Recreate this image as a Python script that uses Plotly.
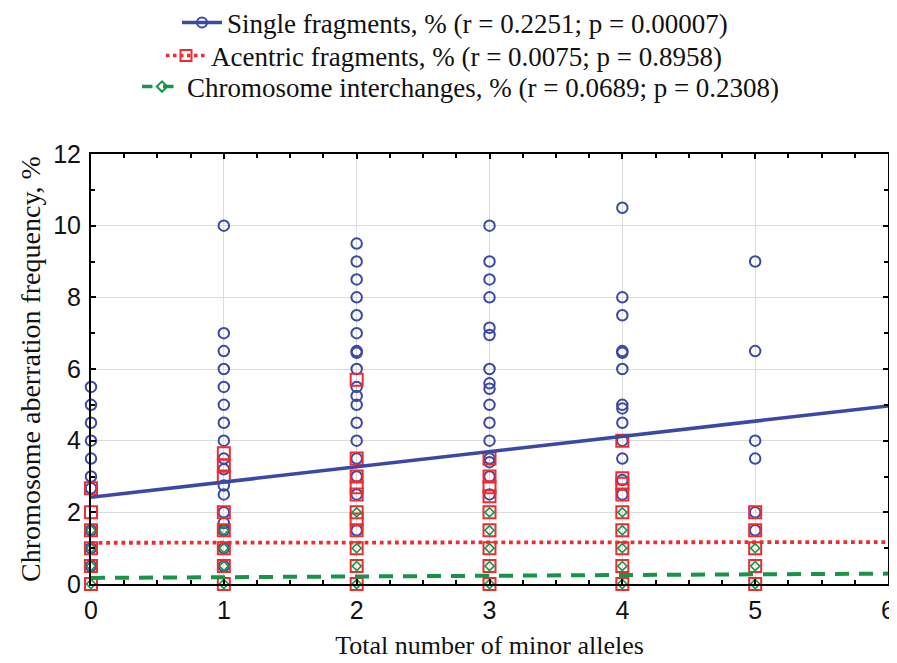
import plotly.graph_objects as go

# ---------------- data ----------------
alleles = [0, 1, 2, 3, 4, 5]

single_by_allele = [
    [5.5, 5.0, 4.5, 4.0, 3.5, 3.0, 2.67, 1.5, 1.0, 0.5],
    [10.0, 7.0, 6.5, 6.0, 5.5, 5.0, 4.5, 4.0, 3.5, 3.2, 2.75, 2.5, 2.0, 1.7, 1.5, 1.0, 0.5],
    [9.5, 9.0, 8.5, 8.0, 7.5, 7.0, 6.5, 6.45, 6.0, 5.5, 5.25, 5.0, 4.5, 4.0, 3.5, 3.0, 2.5, 1.5],
    [10.0, 9.0, 8.5, 8.0, 7.15, 6.95, 6.0, 5.6, 5.45, 5.0, 4.5, 4.0, 3.5, 3.4, 3.0, 2.5],
    [10.5, 8.0, 7.5, 6.5, 6.45, 6.0, 5.0, 4.9, 4.5, 4.0, 3.5, 2.9, 2.5],
    [9.0, 6.5, 4.0, 3.5, 2.0, 1.5],
]
acentric_by_allele = [
    [2.67, 2.0, 1.5, 1.0, 0.5, 0.0],
    [3.65, 3.3, 3.0, 2.0, 1.5, 1.0, 0.5, 0.0],
    [5.7, 3.5, 3.0, 2.7, 2.5, 2.0, 1.8, 1.5, 1.0, 0.5, 0.0],
    [3.5, 3.0, 2.7, 2.45, 2.0, 1.5, 1.0, 0.5, 0.0],
    [4.0, 2.95, 2.8, 2.5, 2.0, 1.5, 1.0, 0.5, 0.0],
    [2.0, 1.5, 1.0, 0.5, 0.0],
]
interchange_by_allele = [
    [1.5, 1.0, 0.5, 0.0],
    [1.5, 1.0, 0.5, 0.0],
    [2.0, 1.0, 0.5, 0.0],
    [2.0, 1.5, 1.0, 0.5, 0.0],
    [2.0, 1.5, 1.0, 0.5, 0.0],
    [1.0, 0.5, 0.0],
]

# regression lines (end values)
fit_x = [0, 6]
single_fit = [2.42, 4.97]
acentric_fit = [1.15, 1.17]
interchange_fit = [0.17, 0.29]

series_names = [
    "Single fragments, % (r = 0.2251; p = 0.00007)",
    "Acentric fragments, % (r = 0.0075; p = 0.8958)",
    "Chromosome interchanges, % (r = 0.0689; p = 0.2308)",
]

x_ticks = [0, 1, 2, 3, 4, 5, 6]
y_ticks = [0, 2, 4, 6, 8, 10, 12]

# ---------------- styling ----------------
BLUE = "#3a48a6"
RED = "#ef2b30"
GREEN = "#179447"
SERIF = "Liberation Serif, Times New Roman, serif"
SANS = "Liberation Sans, Arial, sans-serif"

# the page body adds an 8px offset, so the figure is sized to fill the rest of the window
OFF = 8
W, H = 897 - OFF, 663 - OFF
ML, MR, MT, MB = 91 - OFF, 9, 154 - OFF, 79
PW, PH = W - ML - MR, H - MT - MB


def px_to_paper_x(px):          # px = screen pixel in the 897x663 window
    return (px - OFF - ML) / PW


def px_to_paper_y(py):
    return (H - MB - (py - OFF)) / PH


def flatten(groups):
    xs, ys = [], []
    for a, vals in zip(alleles, groups):
        xs += [a] * len(vals)
        ys += vals
    return xs, ys


fig = go.Figure()

sx, sy = flatten(single_by_allele)
ax_, ay = flatten(acentric_by_allele)
ix, iy = flatten(interchange_by_allele)

fig.add_trace(go.Scatter(x=sx, y=sy, mode="markers", showlegend=False, cliponaxis=False,
                         marker=dict(symbol="circle-open", size=10.5, color=BLUE,
                                     line=dict(width=2, color=BLUE))))
fig.add_trace(go.Scatter(x=ax_, y=ay, mode="markers", showlegend=False, cliponaxis=False,
                         marker=dict(symbol="square-open", size=12, color=RED,
                                     line=dict(width=2, color=RED))))
fig.add_trace(go.Scatter(x=ix, y=iy, mode="markers", showlegend=False, cliponaxis=False,
                         marker=dict(symbol="diamond-open", size=7, color=GREEN,
                                     line=dict(width=1.6, color=GREEN))))

fig.add_trace(go.Scatter(x=fit_x, y=single_fit, mode="lines", showlegend=False,
                         line=dict(color=BLUE, width=3.5)))
fig.add_trace(go.Scatter(x=fit_x, y=acentric_fit, mode="lines", showlegend=False,
                         line=dict(color=RED, width=3.8, dash="dot")))
fig.add_trace(go.Scatter(x=fit_x, y=interchange_fit, mode="lines", showlegend=False,
                         line=dict(color=GREEN, width=4, dash="14px,10px")))

# legend entries (line + marker)
legend_specs = [
    (series_names[0], BLUE, "solid", "circle-open", 10, "legend"),
    (series_names[1], RED, "dot", "square-open", 11, "legend2"),
    (series_names[2], GREEN, "dash", "diamond-open", 8, "legend3"),
]
for name, col, dash, sym, size, lg in legend_specs:
    fig.add_trace(go.Scatter(x=[None], y=[None], mode="lines+markers", name=name, legend=lg,
                             line=dict(color=col, width=3.5, dash=dash),
                             marker=dict(symbol=sym, size=size, color=col, line=dict(width=2, color=col))))

leg_common = dict(font=dict(family=SERIF, size=27, color="#111111"), bgcolor="rgba(0,0,0,0)",
                  xanchor="left", yanchor="middle", itemwidth=40)
fig.update_layout(
    legend=dict(x=px_to_paper_x(177), y=px_to_paper_y(23), **leg_common),
    legend2=dict(x=px_to_paper_x(161), y=px_to_paper_y(56), **leg_common),
    legend3=dict(x=px_to_paper_x(137), y=px_to_paper_y(87), **leg_common),
)

axis_common = dict(showline=True, linecolor="black", linewidth=2, mirror="allticks",
                   ticks="inside", ticklen=5, tickwidth=1.5, tickcolor="black",
                   showgrid=True, gridcolor="#dcdcdc", gridwidth=1, zeroline=False,
                   tickfont=dict(family=SANS, size=25, color="#111111"), automargin=False,
                   ticklabeloverflow="allow")

fig.update_xaxes(range=[0, 6], tickvals=x_ticks, ticktext=[str(v) for v in x_ticks],
                 minor=dict(dtick=0.25, ticks="inside", ticklen=4, tickcolor="black", showgrid=False),
                 title=dict(text="Total number of minor alleles", standoff=13,
                            font=dict(family=SERIF, size=26, color="#111111")),
                 ticklabelstandoff=3,
                 **axis_common)
fig.update_yaxes(range=[0, 12], tickvals=y_ticks, ticktext=[str(v) for v in y_ticks],
                 minor=dict(dtick=1, ticks="inside", ticklen=4, tickcolor="black", showgrid=False),
                 title=dict(text="Chromosome aberration frequency, %", standoff=4,
                            font=dict(family=SERIF, size=28, color="#111111")),
                 ticklabelstandoff=3,
                 **axis_common)

fig.update_layout(width=W, height=H, plot_bgcolor="white", paper_bgcolor="white",
                  margin=dict(l=ML, r=MR, t=MT, b=MB, autoexpand=False))

fig.write_html("out.html")
